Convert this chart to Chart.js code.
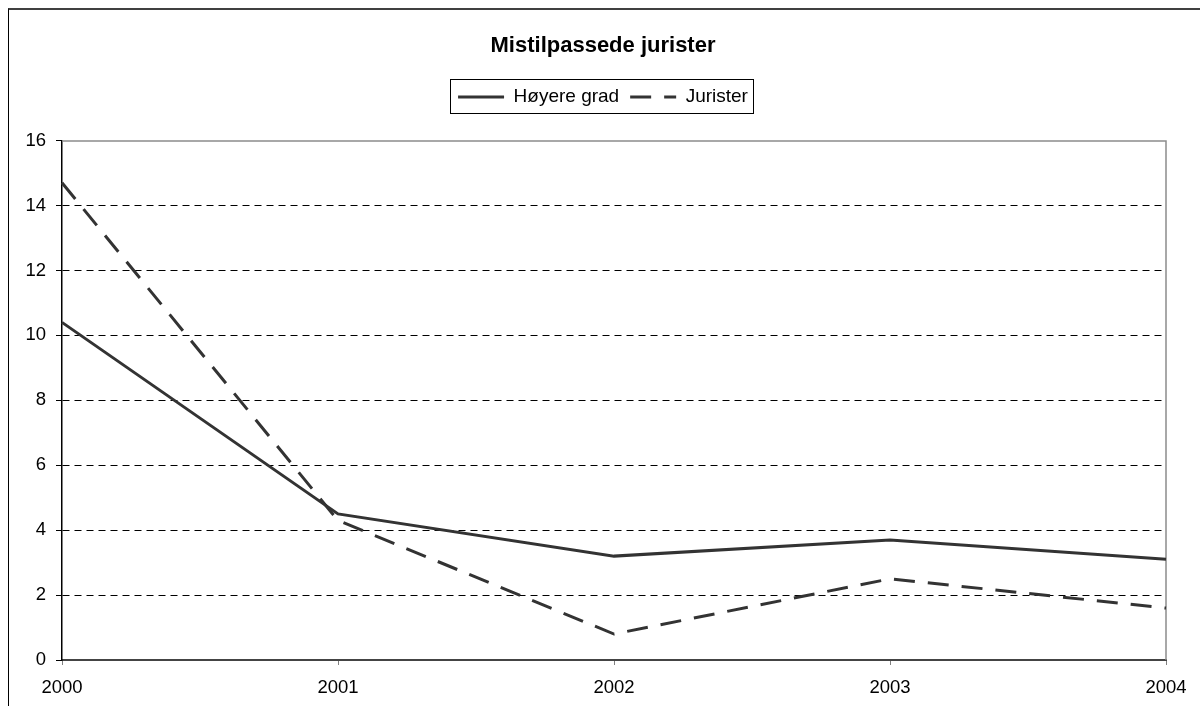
<!DOCTYPE html>
<html lang="no">
<head>
<meta charset="utf-8">
<title>Mistilpassede jurister</title>
<script src="https://cdn.jsdelivr.net/npm/chart.js@4/dist/chart.umd.min.js"></script>
<style>
html,body{margin:0;padding:0;background:#fff;overflow:hidden;}
#ramme{position:absolute;left:8px;top:8px;width:1400px;height:900px;border-top:2px solid #404040;border-left:1px solid #000;}
#boks{position:absolute;left:0;top:0;width:1200px;height:706px;}
</style>
</head>
<body>
<div id="ramme"></div>
<div id="boks"><canvas id="graf"></canvas></div>
<script>

/* =============================
DATA
============================= */

const aar=["2000","2001","2002","2003","2004"];
const hoyereGrad=[10.4,4.5,3.2,3.7,3.1];
const jurister=[14.7,4.3,0.8,2.5,1.6];
const serieNavn=["Høyere grad","Jurister"];
const tittel="Mistilpassede jurister";
const yMin=0,yMax=16,yStep=2;

const FONT="'Liberation Sans', Arial, sans-serif";

/* =============================
RAMME RUNDT PLOT OG LEGEND
============================= */

const rammePlugin={
id:"rammePlugin",
beforeDatasetsDraw(chart){
const {ctx,chartArea:a}=chart;
ctx.save();
ctx.strokeStyle="#8c8c8c";
ctx.lineWidth=1.5;
ctx.beginPath();
ctx.moveTo(a.left,a.top+0.5);
ctx.lineTo(a.right,a.top+0.5);
ctx.lineTo(a.right,a.bottom);
ctx.stroke();
ctx.restore();
},
afterDraw(chart){
const lg=chart.legend;
if(!lg||!lg.legendHitBoxes.length) return;
const hb=lg.legendHitBoxes;
const first=hb[0],last=hb[hb.length-1];
const ctx=chart.ctx;
ctx.save();
ctx.strokeStyle="#000";
ctx.lineWidth=1;
const x1=Math.round(first.left-8)+0.5;
const x2=Math.round(last.left+last.width+5)+0.5;
const y1=Math.round(first.top-8)+0.5;
const y2=Math.round(first.top+first.height+7)+0.5;
ctx.strokeRect(x1,y1,x2-x1,y2-y1);
ctx.restore();
}
};

/* legend: strek eller stiplet som serien */
function lagLegend(chart){
const items=Chart.defaults.plugins.legend.labels.generateLabels(chart);
items.forEach(it=>{
const ds=chart.data.datasets[it.datasetIndex];
it.lineDash=ds.borderDash||[];
it.lineWidth=3;
it.strokeStyle="#333333";
});
return items;
}

/* =============================
GRAF
============================= */

new Chart(document.getElementById("graf"),{
type:"line",
data:{
labels:aar,
datasets:[
{
label:serieNavn[0],
data:hoyereGrad,
borderColor:"#333333",
backgroundColor:"#333333",
borderWidth:3,
pointRadius:0,
tension:0
},
{
label:serieNavn[1],
data:jurister,
borderColor:"#333333",
backgroundColor:"#333333",
borderWidth:3,
borderDash:[21,13],
pointRadius:0,
tension:0
}
]
},
options:{
responsive:true,
maintainAspectRatio:false,
animation:false,
layout:{padding:{left:6,right:0,top:0,bottom:0}},
plugins:{
title:{
display:true,
text:tittel,
color:"#000",
font:{family:FONT,size:22,weight:"bold"},
padding:{top:33,bottom:17}
},
subtitle:{
/* tom blokk = luft mellom legend og plot */
display:true,
text:"",
weight:500,
font:{family:FONT,size:1},
padding:{top:0,bottom:23}
},
legend:{
display:true,
position:"top",
labels:{
color:"#000",
font:{family:FONT,size:19},
usePointStyle:true,
pointStyle:"line",
pointStyleWidth:46,
padding:11,
generateLabels:lagLegend
}
},
tooltip:{enabled:false}
},
scales:{
x:{
type:"category",
offset:false,
afterFit(s){ s.height=46; s.paddingRight=34; },
grid:{
drawOnChartArea:false,
drawTicks:true,
tickLength:5,
tickColor:"#808080",
tickWidth:1
},
border:{display:true,color:"#444",width:2},
ticks:{
color:"#000",
font:{family:FONT,size:18.5},
padding:12,
maxRotation:0,
autoSkip:false
}
},
y:{
min:yMin,
max:yMax,
afterFit(s){ s.width=56; },
grid:{
color:(c)=>(c.tick&&(c.tick.value===yMin||c.tick.value===yMax))?"rgba(0,0,0,0)":"#000",
lineWidth:1,
drawTicks:true,
tickLength:6,
tickColor:"#000",
tickBorderDash:[]
},
border:{display:true,color:"#000",width:1.5,dash:[7,5]},
ticks:{
stepSize:yStep,
color:"#000",
font:{family:FONT,size:18.5},
padding:10
}
}
}
},
plugins:[rammePlugin]
});

</script>
</body>
</html>
